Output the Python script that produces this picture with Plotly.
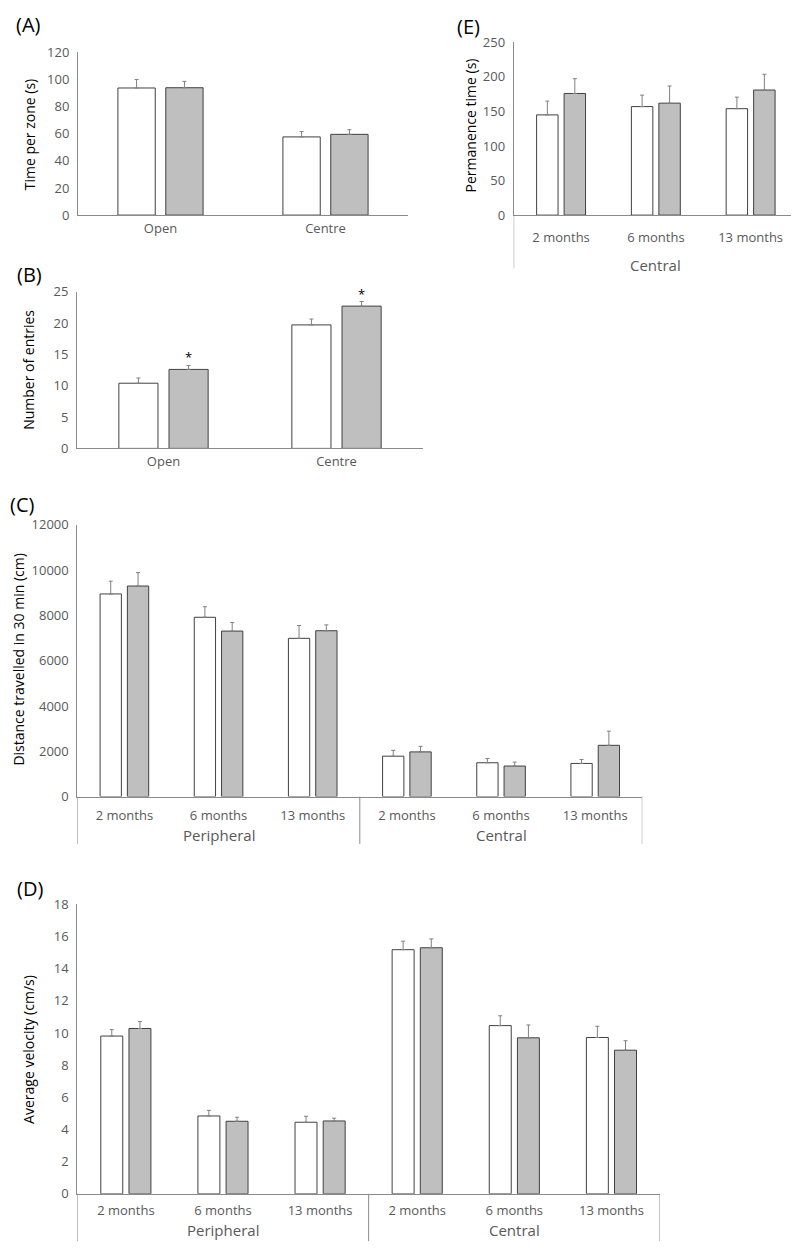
import plotly.graph_objects as go

# --- data ---
zones = ["Open", "Centre"]
months = ["2 months", "6 months", "13 months"]
areas = ["Peripheral", "Central"]
ticks_c = months + months      # peripheral then central

# (A) time per zone (s)
time_ctrl = [93.8, 57.7]
time_ctrl_err = [6.3, 3.9]
time_exp = [94.0, 59.6]
time_exp_err = [4.7, 3.4]

# (B) number of entries
entries_ctrl = [10.4, 19.7]
entries_ctrl_err = [0.83, 0.94]
entries_exp = [12.6, 22.7]
entries_exp_err = [0.63, 0.73]
entries_sig = ["*", "*"]

# (C) distance travelled in 30 min (cm)
dist_ctrl = [8950, 7920, 6990, 1785, 1495, 1465]
dist_ctrl_err = [565, 465, 565, 260, 190, 175]
dist_exp = [9300, 7310, 7325, 1975, 1350, 2265]
dist_exp_err = [595, 380, 260, 245, 175, 625]

# (D) average velocity (cm/s)
vel_ctrl = [9.81, 4.84, 4.45, 15.18, 10.46, 9.72]
vel_ctrl_err = [0.40, 0.35, 0.37, 0.53, 0.61, 0.70]
vel_exp = [10.28, 4.51, 4.53, 15.30, 9.70, 8.93]
vel_exp_err = [0.43, 0.25, 0.17, 0.55, 0.80, 0.59]

# (E) permanence time in central zone (s)
perm_ctrl = [145, 157, 154]
perm_ctrl_err = [20, 16.6, 16.7]
perm_exp = [176, 162, 181]
perm_exp_err = [21.4, 24.8, 22.8]

W, H = 799, 1250
PAGE_OFF = 8          # the page body adds an 8px margin round the figure
FONT = "Open Sans"
AXIS_GREY = "#8a8a8a"
TICK_GREY = "#595959"


# screen pixel -> paper fraction
def px(x):
    return (x - PAGE_OFF) / W


def py(y):
    return 1 - (y - PAGE_OFF) / H


fig = go.Figure()


def add_pair(x, ctrl, ctrl_err, exp, exp_err, xa, ya, sig=None):
    err_style = dict(type="data", symmetric=False, color="#808080",
                     thickness=1, width=2)
    fig.add_trace(go.Bar(
        x=x, y=ctrl, xaxis=xa, yaxis=ya, showlegend=False,
        marker=dict(color="white", line=dict(color="#404040", width=1)),
        error_y=dict(array=ctrl_err, arrayminus=[0] * len(ctrl), **err_style),
    ))
    fig.add_trace(go.Bar(
        x=x, y=exp, xaxis=xa, yaxis=ya, showlegend=False,
        marker=dict(color="#bfbfbf", line=dict(color="#404040", width=1)),
        error_y=dict(array=exp_err, arrayminus=[0] * len(exp), **err_style),
        text=sig, textposition="outside" if sig else None,
        textfont=dict(family=FONT, size=13, color="#000000"),
        cliponaxis=False,
    ))


pos6 = list(range(len(ticks_c)))
pos3 = list(range(len(months)))

add_pair(zones, time_ctrl, time_ctrl_err, time_exp, time_exp_err, "x", "y")
add_pair(zones, entries_ctrl, entries_ctrl_err, entries_exp, entries_exp_err,
         "x2", "y2", sig=entries_sig)
add_pair(pos6, dist_ctrl, dist_ctrl_err, dist_exp, dist_exp_err, "x3", "y3")
add_pair(pos6, vel_ctrl, vel_ctrl_err, vel_exp, vel_exp_err, "x4", "y4")
add_pair(pos3, perm_ctrl, perm_ctrl_err, perm_exp, perm_exp_err, "x5", "y5")

tickfont = dict(family=FONT, size=13, color=TICK_GREY)


def xax(left, right, anchor, standoff, **kw):
    return dict(domain=[px(left), px(right)], anchor=anchor,
                showline=True, linecolor=AXIS_GREY, linewidth=1,
                showgrid=False, zeroline=False, ticks="",
                tickfont=tickfont, ticklabelstandoff=standoff,
                fixedrange=True, **kw)


def yax(top, bottom, anchor, rng, dtick):
    return dict(domain=[py(bottom), py(top)], anchor=anchor, range=rng,
                dtick=dtick, tickformat="d", showline=True,
                linecolor=AXIS_GREY, linewidth=1, showgrid=False,
                zeroline=False, ticks="", tickfont=tickfont,
                ticklabelstandoff=5, fixedrange=True)


fig.update_layout(
    width=W, height=H,
    margin=dict(l=0, r=0, t=0, b=0),
    paper_bgcolor="white", plot_bgcolor="white",
    barmode="group", bargap=0.42, bargroupgap=0.22,
    font=dict(family=FONT, color="#000000"),
    xaxis=xax(78, 408, "y", 1),
    yaxis=yax(44, 209, "x", [0, 120], 20),
    xaxis2=xax(77, 423, "y2", 1),
    yaxis2=yax(286.7, 445.7, "x2", [0, 25], 5),
    xaxis3=xax(77.3, 642.3, "y3", 7, range=[-0.5, 5.5],
               tickvals=pos6, ticktext=ticks_c),
    yaxis3=yax(523.3, 799, "x3", [0, 12000], 2000),
    xaxis4=xax(77.3, 660, "y4", 5, range=[-0.5, 5.5],
               tickvals=pos6, ticktext=ticks_c),
    yaxis4=yax(908.3, 1202, "x4", [0, 18], 2),
    xaxis5=xax(513.7, 798, "y5", 10, range=[-0.5, 2.5],
               tickvals=pos3, ticktext=months),
    yaxis5=yax(33.7, 209, "x5", [0, 250], 50),
)

ann = []
# panel letters
for label, x, y, anchor in [("(A)", 28, 16, "center"),
                            ("(B)", 29, 269, "center"),
                            ("(C)", 8, 503, "left"),
                            ("(D)", 30, 892, "center"),
                            ("(E)", 468, 18, "center")]:
    ann.append(dict(text=label, x=px(x), y=py(y), xref="paper", yref="paper",
                    showarrow=False, xanchor=anchor, yanchor="middle",
                    font=dict(family=FONT, size=20, color="#000000")))

# y axis titles
for title, x, y in [("Time per zone (s)", 29, 127),
                    ("Number of entries", 29, 366),
                    ("Distance travelled in 30 min (cm)", 19, 660),
                    ("Average velocity (cm/s)", 29, 1056),
                    ("Permanence time (s)", 470, 118)]:
    ann.append(dict(text=title, x=px(x), y=py(y), xref="paper", yref="paper",
                    showarrow=False, textangle=-90, xanchor="center",
                    yanchor="middle",
                    font=dict(family=FONT, size=14, color="#000000")))

# group labels under month ticks
group_font = dict(family=FONT, size=15, color=TICK_GREY)
for xa, yy in [("x3", 838), ("x4", 1239)]:
    for i, area in enumerate(areas):
        ann.append(dict(text=area, x=1 + 3 * i, y=py(yy), xref=xa,
                        yref="paper", showarrow=False, yanchor="middle",
                        font=group_font))
ann.append(dict(text=areas[1], x=1, y=py(260), xref="x5", yref="paper",
                showarrow=False, yanchor="middle", font=group_font))

# bracket dividers below the category axes
shapes = []
for xa, xs, y0, y1 in [("x3", [-0.5, 2.5, 5.5], 799, 847),
                       ("x4", [-0.5, 2.5, 5.5], 1202, 1250),
                       ("x5", [-0.5, 2.5], 209, 263)]:
    for xv in xs:
        shapes.append(dict(type="line", xref=xa, yref="paper",
                           x0=xv, x1=xv, y0=py(y0), y1=py(y1),
                           line=dict(color=AXIS_GREY, width=1)))

fig.update_layout(annotations=ann, shapes=shapes)

fig.write_html("out.html")
